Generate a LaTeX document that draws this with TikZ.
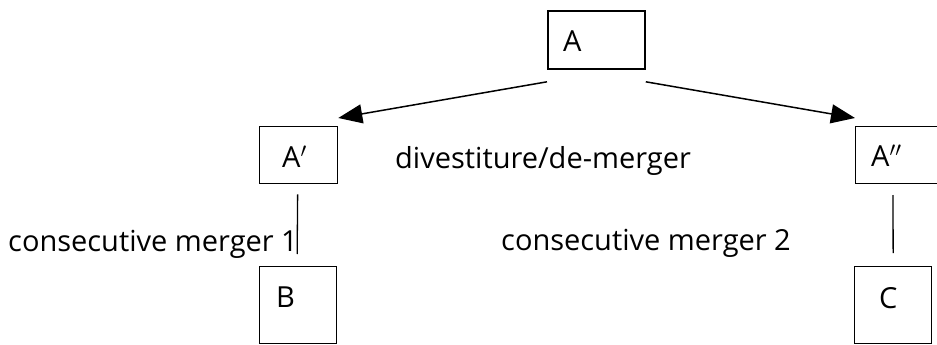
\documentclass[tikz,border=0pt]{standalone}
\usepackage{fontspec}
\setmainfont{Open Sans}
\usetikzlibrary{arrows.meta,calc}
\begin{document}
\begin{tikzpicture}[x=1pt,y=-1pt,
  box/.style={draw=black,line width=1.3pt,inner sep=0pt,anchor=north west},
  lbl/.style={inner sep=0pt,anchor=base west,font=\fontsize{29}{33}\selectfont},
  link/.style={line width=1.3pt},
  flow/.style={line width=1.5pt,-{Triangle[length=24pt,width=19pt]}}]
  \useasboundingbox (0,0) rectangle (937,345);
  % boxes
  \node[box,line width=1.8pt,minimum width=97pt,minimum height=58pt] (A) at (547,10) {};
  \node[box,minimum width=78pt,minimum height=57pt] (A1) at (259,126) {};
  \node[box,minimum width=86pt,minimum height=57pt] (A2) at (855,126) {};
  \node[box,minimum width=77pt,minimum height=77pt] (B) at (259,266) {};
  \node[box,minimum width=77pt,minimum height=77pt] (C) at (854,266) {};
  % box captions
  \node[lbl] (tA) at (563,52) {A};
  \node[lbl] (tA1) at (282,167) {A$'$};
  \node[lbl] (tA2) at (871,166) {A$''$};
  \node[lbl] (tB) at (276,307) {B};
  \node[lbl] (tC) at (879,308) {C};
  % free text
  \node[lbl] (div) at (395,168) {divestiture/de-merger};
  \node[lbl] (cm1) at (8,251) {consecutive merger 1};
  \node[lbl] (cm2) at (501,250) {consecutive merger 2};
  % arrows out of A
  \coordinate (aL) at ($(A.south west)+(0,12)$);
  \coordinate (aR) at ($(A.south east)+(0,12)$);
  \coordinate (tipL) at ($(A1.north east)+(0,-8)$);
  \coordinate (tipR) at ($(A2.north west)+(0,-8)$);
  \draw[flow] (aL) -- (tipL);
  \draw[flow] (aR) -- (tipR);
  % merger links
  \coordinate (l1) at ($(A1.south)+(-1,10)$);
  \coordinate (l1b) at ($(B.north)+(-1,-12)$);
  \draw[link] (l1) -- (l1b);
  \coordinate (l2) at ($(A2.north west)+(38,69)$);
  \coordinate (l2b) at ($(C.north)+(0,-13)$);
  \draw[link] (l2) -- (l2b);
\end{tikzpicture}
\end{document}
